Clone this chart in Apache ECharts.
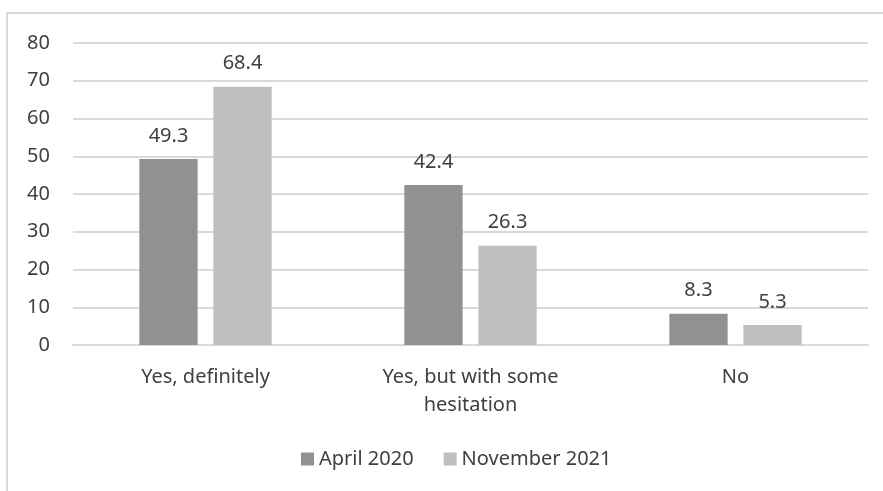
<!DOCTYPE html>
<html>
<head>
<meta charset="utf-8">
<script src="https://cdn.jsdelivr.net/npm/echarts@6/dist/echarts.min.js"></script>
<style>
  html, body { margin: 0; padding: 0; background: #fff; }
  #chart { width: 883px; height: 491px; }
</style>
</head>
<body>
<div id="chart"></div>
<script>
var categories = ['Yes, definitely', 'Yes, but with some\nhesitation', 'No'];
var april2020 = [49.3, 42.4, 8.3];
var november2021 = [68.4, 26.3, 5.3];
var seriesNames = ['April 2020', 'November 2021'];

var myChart = echarts.init(document.getElementById('chart'));
var font = '"Noto Sans", sans-serif';
var txt = '#404040';
var option = {
    backgroundColor: '#fff',
    color: ['#919191', '#bfbfbf'],
    textStyle: { fontFamily: font },
    graphic: [{
        type: 'rect',
        shape: { x: 7, y: 13, width: 900, height: 500 },
        style: { fill: 'none', stroke: '#d9d9d9', lineWidth: 2 },
        silent: true
    }],
    grid: { left: 73, right: 15, top: 43, bottom: 146 },
    legend: {
        bottom: 17,
        left: 296,
        itemWidth: 13,
        itemHeight: 13,
        itemGap: 30,
        icon: 'rect',
        textStyle: { fontFamily: font, fontSize: 20, color: txt },
        data: seriesNames
    },
    xAxis: {
        type: 'category',
        data: categories,
        axisTick: { show: false },
        axisLine: { lineStyle: { color: '#d9d9d9', width: 2 } },
        axisLabel: { fontFamily: font, fontSize: 20, color: txt, margin: 18, lineHeight: 28 }
    },
    yAxis: {
        type: 'value',
        min: 0,
        max: 80,
        interval: 10,
        axisLabel: { fontFamily: font, fontSize: 20, color: txt, margin: 23 },
        splitLine: { lineStyle: { color: '#d9d9d9', width: 2 } }
    },
    series: [
        {
            name: seriesNames[0],
            type: 'bar',
            data: april2020,
            barWidth: '22%',
            barGap: '27%',
            label: { show: true, position: 'top', distance: 13, fontFamily: font, fontSize: 20, color: txt }
        },
        {
            name: seriesNames[1],
            type: 'bar',
            data: november2021,
            barWidth: '22%',
            label: { show: true, position: 'top', distance: 13, fontFamily: font, fontSize: 20, color: txt }
        }
    ]
};
myChart.setOption(option);
</script>
</body>
</html>
